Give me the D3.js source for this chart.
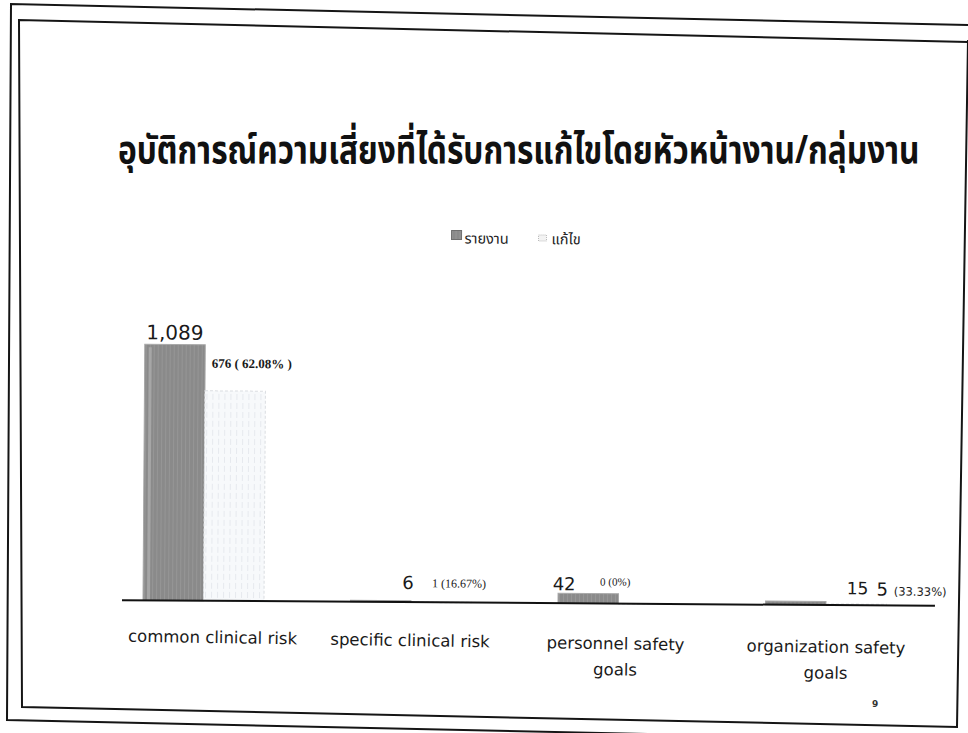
<!DOCTYPE html>
<html><head><meta charset="utf-8">
<script src="https://cdn.jsdelivr.net/npm/d3@7"></script>
<style>html,body{margin:0;padding:0;background:#fff;} svg{display:block}</style>
</head><body>
<svg id="c" width="968" height="733"></svg>
<script>
// ---- data ----
const title = "อุบัติการณ์ความเสี่ยงที่ได้รับการแก้ไขโดยหัวหน้างาน/กลุ่มงาน";
const categories = ["common clinical risk","specific clinical risk","personnel safety goals","organization safety goals"];
const seriesNames = ["รายงาน","แก้ไข"];
const reported = [1089, 6, 42, 15];
const fixedBars = [893, 1, 0, 5];           // bar heights as drawn in the picture
const fixedNums = ["676", "1", "0", "5"];
const fixedPcts = ["( 62.08% )", "(16.67%)", "(0%)", "(33.33%)"];
const pageNo = "9";

// ---- layout ----
const svg = d3.select("#c");
const gothic = "'DejaVu Sans', Lato, sans-serif";
const serif = "'Liberation Serif', 'DejaVu Serif', serif";
const thai = "'Noto Sans Thai','Noto Sans','DejaVu Sans',sans-serif";

// frames (scanned slide border)
const frame = svg.append("g").attr("fill","none").attr("stroke","#151515").attr("stroke-width",2);
frame.append("path").attr("d","M968,25 L11,4 L7,720 L968,741");
frame.append("path").attr("d","M968,42 L19,20 L22,707 L957,727 L968,40");

// title (natural width measured, then stretched to the reference width)
const tt = svg.append("text").text(title)
  .attr("font-family",thai).attr("font-weight","bold").attr("font-size",39)
  .attr("fill","#111");
const tLen = tt.node().getComputedTextLength();
tt.attr("transform",`translate(118,163) scale(${802/tLen},1)`);

// patterns
const defs = svg.append("defs");
const pg = defs.append("pattern").attr("id","grayTex").attr("patternUnits","userSpaceOnUse").attr("width",4).attr("height",6);
pg.append("rect").attr("width",4).attr("height",6).attr("fill","#8a8a8a");
pg.append("rect").attr("x",1).attr("width",1).attr("height",6).attr("fill","#969696");
const pl = defs.append("pattern").attr("id","lightTex").attr("patternUnits","userSpaceOnUse").attr("width",6).attr("height",9);
pl.append("rect").attr("width",6).attr("height",9).attr("fill","#f7f9fb");
pl.append("rect").attr("x",2).attr("width",1).attr("height",6).attr("fill","#e6e9ee");

const plot = svg.append("g").attr("transform","rotate(0.4,530,600)");

// legend
const leg = plot.append("g");
leg.append("rect").attr("x",449).attr("y",231).attr("width",10).attr("height",9)
  .attr("fill","url(#grayTex)").attr("stroke","#6f6f6f").attr("stroke-width",1);
leg.append("rect").attr("x",536).attr("y",235).attr("width",8).attr("height",6)
  .attr("fill","#f3f3f3").attr("stroke","#bbb").attr("stroke-dasharray","1,1");
leg.selectAll("text.l").data(seriesNames).join("text")
  .attr("x",(d,i)=>[462,549][i]).attr("y",244)
  .attr("font-family",thai).attr("font-size",14.5).attr("fill","#222").text(d=>d);

// scales
const x0 = d3.scaleBand().domain(categories).range([99.75, 929.75]).paddingInner(0.417).paddingOuter(0.2085);
const x1 = d3.scaleBand().domain(seriesNames).range([0, x0.bandwidth()]);
const y = d3.scaleLinear().domain([0, 1089]).range([603, 347]);

const groups = plot.selectAll("g.grp").data(categories).join("g")
  .attr("class","grp").attr("transform",d=>`translate(${x0(d)},0)`);

// reported bars
groups.append("rect")
  .attr("x",x1(seriesNames[0])).attr("width",x1.bandwidth())
  .attr("y",(d,i)=>y(reported[i])).attr("height",(d,i)=>y(0)-y(reported[i]))
  .attr("fill","url(#grayTex)").attr("stroke","#a9a9a9").attr("stroke-width",1);
groups.filter((d,i)=>y(0)-y(reported[i])>8).append("rect")
  .attr("x",x1(seriesNames[0])+4).attr("width",3)
  .attr("y",(d,i)=>y(reported[i])+3).attr("height",(d,i)=>y(0)-y(reported[i])-3)
  .attr("fill","#a6a6a6");
// fixed bars
groups.append("rect")
  .attr("x",x1(seriesNames[1])).attr("width",x1.bandwidth())
  .attr("y",(d,i)=>y(fixedBars[i])).attr("height",(d,i)=>Math.max(0.5,y(0)-y(fixedBars[i])))
  .attr("fill","url(#lightTex)").attr("stroke","#dadde1").attr("stroke-width",1).attr("stroke-dasharray","3,2");

// axis line
const xAxis = d3.axisBottom(x0).tickSize(0).tickFormat("");
const ax = plot.append("g").attr("transform",`translate(0,${y(0)})`).call(xAxis);
ax.select(".domain").attr("d","M122,0H935").attr("stroke","#111").attr("stroke-width",2);

// category labels (wrapped)
const catG = svg.append("g").attr("transform","rotate(0.9,213,643)");
const catLbl = catG.selectAll("text.cat").data(categories).join("text")
  .attr("class","cat").attr("text-anchor","middle")
  .attr("font-family",gothic).attr("font-size",16.5).attr("fill","#1a1a1a")
  .attr("x",(d,i)=>x0(d)+x0.bandwidth()/2+[9,-1,-3,0][i]).attr("y",643);
catLbl.each(function(d){
  const t = d3.select(this), words = d.split(" "), xx = t.attr("x");
  let line = [], ts = t.append("tspan").attr("x",xx).attr("dy",0);
  for (const w of words){
    line.push(w); ts.text(line.join(" "));
    if (ts.node().getComputedTextLength() > 180 && line.length>1){
      line.pop(); ts.text(line.join(" ")); line=[w];
      ts = t.append("tspan").attr("x",xx).attr("dy",26).text(w);
    }
  }
});

// value labels
const repDx = [30, 57.5, 6, 92], repY = [342, 590, 590, 592], repFs = [20, 18, 18, 17];
groups.append("text").attr("text-anchor","middle")
  .attr("x",(d,i)=>repDx[i]).attr("y",(d,i)=>repY[i])
  .attr("font-family",gothic).attr("font-size",(d,i)=>repFs[i]).attr("fill","#1a1a1a")
  .text((d,i)=>d3.format(",")(reported[i]));

const fixDx = [67, 81.5, 42, 111], fixY = [370, 588, 585, 593];
const fixStyle = [
  {nf:serif, nfs:13, nw:"bold", pf:serif, pfs:13, pw:"bold"},
  {nf:serif, nfs:12, nw:"normal", pf:serif, pfs:12, pw:"normal"},
  {nf:serif, nfs:11, nw:"normal", pf:serif, pfs:11, pw:"normal"},
  {nf:gothic, nfs:18, nw:"normal", pf:"'DejaVu Sans',sans-serif", pfs:11.5, pw:"normal"}
];
groups.each(function(d,i){
  const s = fixStyle[i];
  const t = d3.select(this).append("text").attr("x",fixDx[i]).attr("y",fixY[i]).attr("fill","#1a1a1a");
  t.append("tspan").attr("font-family",s.nf).attr("font-size",s.nfs).attr("font-weight",s.nw).text(fixedNums[i]+" ");
  t.append("tspan").attr("font-family",s.pf).attr("font-size",s.pfs).attr("font-weight",s.pw).text(fixedPcts[i]);
});

// page number
svg.append("text").attr("x",872).attr("y",707).attr("font-family",gothic).attr("font-size",9)
  .attr("font-weight","bold").attr("fill","#333").text(pageNo);
</script>
</body></html>
